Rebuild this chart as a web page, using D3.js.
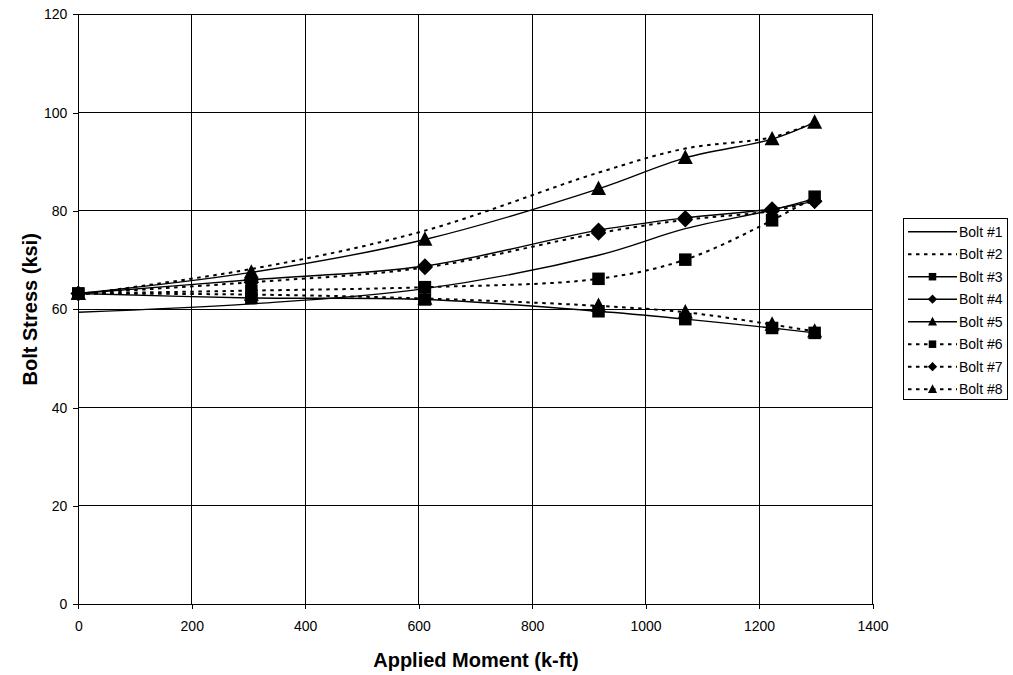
<!DOCTYPE html>
<html><head><meta charset="utf-8">
<script src="https://cdn.jsdelivr.net/npm/d3@7"></script>
<style>body{margin:0;background:#fff}svg{display:block;font-family:Arial,"Liberation Sans",sans-serif}</style>
</head><body>
<svg id="c" width="1013" height="675"></svg>
<script>
const moments = [0, 305, 611, 917, 1070, 1223, 1298];
const bolt1 = [59.4, 61.1, 64.2, 71.0, 76.4, 80.2, 82.5];
const bolt2 = [63.0, 68.2, 76.0, 87.8, 92.7, 95.0, 98.0];
const bolt3 = [63.2, 62.3, 62.0, 59.6, 58.0, 56.2, 55.2];
const bolt4 = [63.2, 66.0, 68.8, 76.1, 78.6, 80.4, 82.0];
const bolt5 = [63.2, 67.5, 74.2, 84.5, 90.8, 94.6, 98.0];
const bolt6 = [63.2, 63.8, 64.5, 66.2, 70.1, 78.1, 82.9];
const bolt7 = [63.2, 65.5, 68.5, 75.5, 78.2, 80.0, 82.0];
const bolt8 = [63.2, 63.0, 62.2, 60.7, 59.4, 56.9, 55.5];
const seriesNames = ["Bolt #1","Bolt #2","Bolt #3","Bolt #4","Bolt #5","Bolt #6","Bolt #7","Bolt #8"];
const xTicks = [0,200,400,600,800,1000,1200,1400];
const yTicks = [0,20,40,60,80,100,120];

const seriesVals = [bolt1,bolt2,bolt3,bolt4,bolt5,bolt6,bolt7,bolt8];
const dashed = [false,true,false,false,false,true,true,true];
const markers = [null,null,"square","diamond","triangle","square","diamond","triangle"];

const svg = d3.select("#c");
const L=78.3, R=872.5, T=14.3, B=604.3;
const x = d3.scaleLinear().domain([0,1400]).range([L,R]);
const y = d3.scaleLinear().domain([0,120]).range([B,T]);

// grid
svg.append("g").selectAll("line").data(xTicks).join("line")
  .attr("x1",d=>x(d)).attr("x2",d=>x(d)).attr("y1",T).attr("y2",B)
  .attr("stroke","#000").attr("stroke-width",1).attr("shape-rendering","crispEdges");
svg.append("g").selectAll("line").data(yTicks).join("line")
  .attr("x1",L).attr("x2",R).attr("y1",d=>y(d)).attr("y2",d=>y(d))
  .attr("stroke","#000").attr("stroke-width",1).attr("shape-rendering","crispEdges");
svg.append("rect").attr("x",L).attr("y",T).attr("width",R-L).attr("height",B-T)
  .attr("fill","none").attr("stroke","#000").attr("stroke-width",1).attr("shape-rendering","crispEdges");

// axes
const xa = svg.append("g").attr("transform",`translate(0,${B})`)
  .call(d3.axisBottom(x).tickValues(xTicks).tickSize(5).tickPadding(12).tickFormat(d3.format("d")));
const ya = svg.append("g").attr("transform",`translate(${L},0)`)
  .call(d3.axisLeft(y).tickValues(yTicks).tickSize(5).tickPadding(6).tickFormat(d3.format("d")));
[xa,ya].forEach(a=>{
  a.select(".domain").attr("stroke","#000").attr("shape-rendering","crispEdges");
  a.selectAll(".tick line").attr("stroke","#000").attr("shape-rendering","crispEdges");
  a.selectAll("text").attr("font-size",14).attr("fill","#000").attr("font-family","Arial, 'Liberation Sans', sans-serif");
});

// titles
svg.append("text").attr("x",476).attr("y",667).attr("text-anchor","middle")
  .attr("font-weight","bold").attr("font-size",20).text("Applied Moment (k-ft)");
svg.append("text").attr("transform",`translate(37,${(T+B)/2}) rotate(-90)`).attr("text-anchor","middle")
  .attr("font-weight","bold").attr("font-size",20).text("Bolt Stress (ksi)");

function drawMarker(g, type, cx, cy, s){
  if(type==="square"){
    g.append("rect").attr("x",cx-s/2).attr("y",cy-s/2).attr("width",s).attr("height",s).attr("fill","#000");
  } else if(type==="diamond"){
    const h=s*0.62;
    g.append("path").attr("d",`M${cx},${cy-h}L${cx+h},${cy}L${cx},${cy+h}L${cx-h},${cy}Z`).attr("fill","#000");
  } else if(type==="triangle"){
    const h=s*1.1, w=s*0.6;
    g.append("path").attr("d",`M${cx},${cy-h*0.6}L${cx+w},${cy+h*0.45}L${cx-w},${cy+h*0.45}Z`).attr("fill","#000");
  }
}

const line = d3.line().x(d=>x(d[0])).y(d=>y(d[1])).curve(d3.curveCatmullRom.alpha(0.5));
seriesVals.forEach((vals,i)=>{
  const pts = moments.map((m,j)=>[m,vals[j]]);
  const g = svg.append("g");
  g.append("path").attr("d",line(pts)).attr("fill","none").attr("stroke","#000")
    .attr("stroke-width",dashed[i]?2:1.4).attr("stroke-dasharray",dashed[i]?"3.5,4.5":null);
  if(markers[i]) pts.forEach(p=>drawMarker(g,markers[i],x(p[0]),y(p[1]),12.5));
});

// legend
const lg = svg.append("g");
lg.append("rect").attr("x",903.5).attr("y",218.5).attr("width",104).attr("height",181)
  .attr("fill","#fff").attr("stroke","#000").attr("stroke-width",1);
seriesNames.forEach((n,i)=>{
  const cy = 231.7 + i*22.5;
  lg.append("line").attr("x1",908).attr("x2",957).attr("y1",cy).attr("y2",cy)
    .attr("stroke","#000").attr("stroke-width",dashed[i]?2:1.4).attr("stroke-dasharray",dashed[i]?"3.5,4.5":null);
  if(markers[i]){ const mg=lg.append("g"); drawMarker(mg,markers[i],932.5,cy,7.5); }
  lg.append("text").attr("x",959).attr("y",cy).attr("dy","0.35em").attr("font-size",14).text(n);
});
</script>
</body></html>
